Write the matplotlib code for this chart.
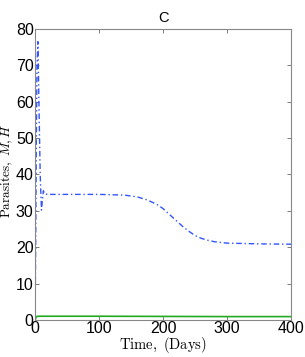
import matplotlib
matplotlib.use("Agg")
import matplotlib.pyplot as plt

# Data
t_blue = [0, 1, 2, 3, 4.5, 6, 8, 10, 11.5, 13, 15, 20, 50, 100, 140, 160, 175, 190, 200,
          210, 220, 230, 240, 250, 260, 270, 280, 290, 300, 325, 350, 400]
parasites_M = [0, 22, 50, 70, 76.5, 60, 40, 30.2, 33, 35.5, 34.6, 34.5, 34.5, 34.5, 34.3,
               33.8, 33.0, 31.8, 30.6, 29.0, 27.4, 25.8, 24.4, 23.2, 22.4, 21.9, 21.5,
               21.3, 21.1, 21.0, 20.9, 20.8]
t_green = [0, 2, 5, 100, 200, 300, 400]
parasites_H = [0, 0.9, 1.0, 1.0, 0.95, 0.9, 0.9]

xticks = [0, 100, 200, 300, 400]
yticks = [0, 10, 20, 30, 40, 50, 60, 70, 80]

plt.rcParams['mathtext.fontset'] = 'cm'
plt.rcParams['font.family'] = ['Liberation Sans', 'DejaVu Sans']

fig = plt.figure(figsize=(3.05, 3.57), dpi=100)
ax = fig.add_axes([0.115, 0.104, 0.839, 0.815])

ax.plot(t_blue, parasites_M, color='#3355ff', lw=1.0, linestyle=(0, (4, 2, 1, 2)))
ax.plot(t_green, parasites_H, color='#22aa22', lw=1.2)

ax.set_xlim(0, 400)
ax.set_ylim(0, 80)
ax.set_xticks(xticks)
ax.set_yticks(yticks)
ax.tick_params(direction='in', top=True, right=True, length=3, width=0.6,
               labelsize=11.5, colors='#666666', labelcolor='black', pad=1)
for s in ax.spines.values():
    s.set_color('#888888')
    s.set_linewidth(0.8)

ax.set_title('C', fontsize=10.5, pad=5)
ax.set_xlabel(r'$\mathrm{Time,\ (Days)}$', fontsize=10.5, labelpad=-1)
ax.set_ylabel(r'$\mathrm{Parasites,}\ M, H$', fontsize=9.5, labelpad=0)
ax.yaxis.set_label_coords(-0.08, 0.512)

fig.savefig('out.png', dpi=100)
